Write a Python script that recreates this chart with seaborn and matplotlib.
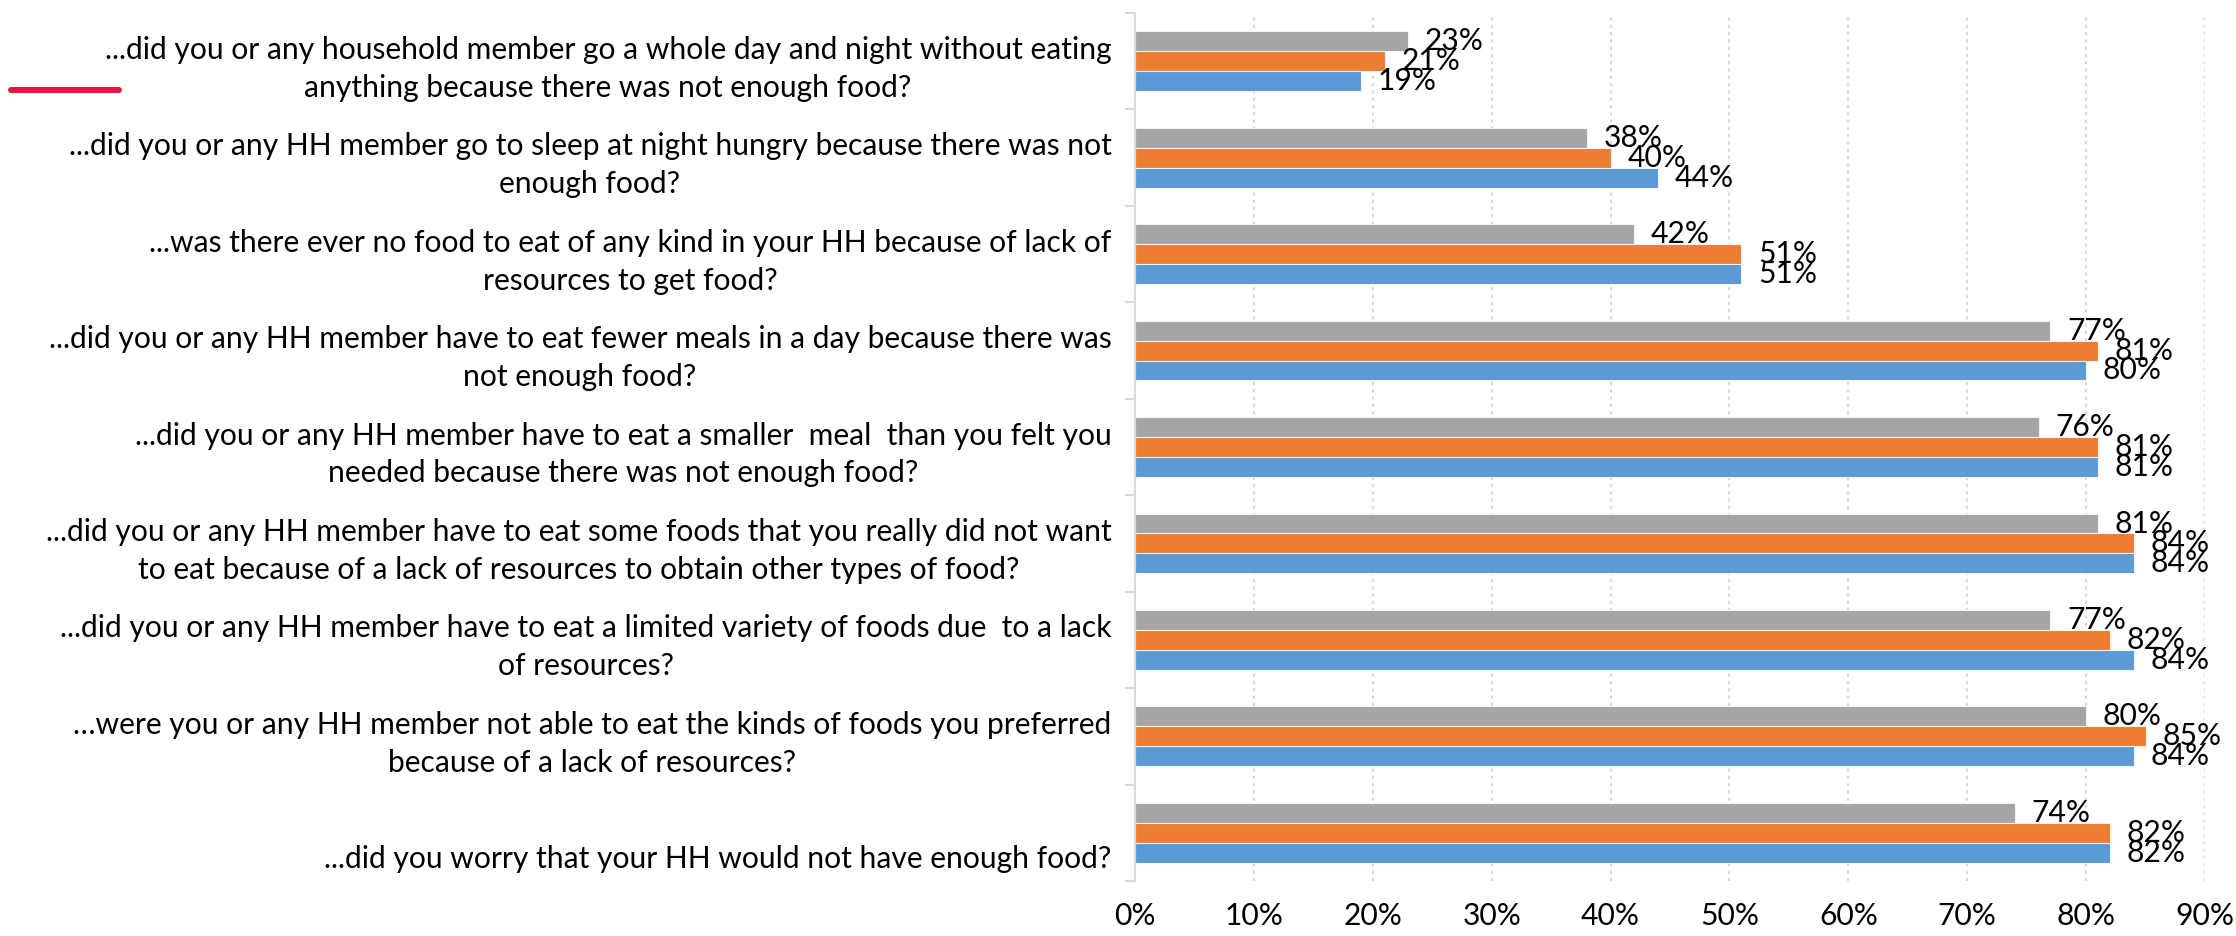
import matplotlib
matplotlib.use("Agg")
import matplotlib.pyplot as plt
from matplotlib.lines import Line2D
from matplotlib.ticker import PercentFormatter, FixedLocator
import seaborn as sns
import pandas as pd

# Household food insecurity questions (top to bottom)
questions = [
    "...did you or any household member go a whole day and night without eating\nanything because there was not enough food?",
    "...did you or any HH member go to sleep at night hungry because there was not\nenough food?",
    "...was there ever no food to eat of any kind in your HH because of lack of\nresources to get food?",
    "...did you or any HH member have to eat fewer meals in a day because there was\nnot enough food?",
    "...did you or any HH member have to eat a smaller  meal  than you felt you\nneeded because there was not enough food?",
    "...did you or any HH member have to eat some foods that you really did not want\nto eat because of a lack of resources to obtain other types of food?",
    "...did you or any HH member have to eat a limited variety of foods due  to a lack\nof resources?",
    "\u2026were you or any HH member not able to eat the kinds of foods you preferred\nbecause of a lack of resources?",
    "\n...did you worry that your HH would not have enough food?",
]

# Share of households answering "yes" (%), one list per survey round
round_3 = [23, 38, 42, 77, 76, 81, 77, 80, 74]   # grey
round_2 = [21, 40, 51, 81, 81, 84, 82, 85, 82]   # orange
round_1 = [19, 44, 51, 80, 81, 84, 84, 84, 82]   # blue

rounds = ["Round 3", "Round 2", "Round 1"]
colors = ["#A5A5A5", "#ED7D31", "#5B9BD5"]

df = pd.DataFrame({
    "question": questions * 3,
    "round": [rounds[0]] * 9 + [rounds[1]] * 9 + [rounds[2]] * 9,
    "pct": round_3 + round_2 + round_1,
})

sns.set_theme(style="white")
plt.rcParams["font.family"] = ["Lato", "DejaVu Sans"]

FS = 21.6

W, H = 2236, 936
fig = plt.figure(figsize=(W / 100, H / 100), dpi=100, facecolor="white")
ax = fig.add_axes([1135 / W, 1 - 881 / H, (2205 - 1135) / W, (881 - 13) / H])

sns.barplot(
    data=df, x="pct", y="question", hue="round", hue_order=rounds,
    order=questions, palette=colors, orient="h", width=0.62,
    saturation=1, edgecolor="#F2F2F2", linewidth=0.8, legend=False, ax=ax,
)

ax.set_xlim(0, 90)
ax.set_ylim(8.5, -0.5)
ax.set_xlabel("")
ax.set_ylabel("")

# x axis: percent ticks with dotted vertical gridlines
ax.set_xticks(range(0, 91, 10))
ax.xaxis.set_major_formatter(PercentFormatter(xmax=100, decimals=0))
ax.tick_params(axis="x", length=0, pad=15, labelsize=FS, labelcolor="black")
ax.grid(axis="x", color="#D9D9D9", linestyle=(0, (1.5, 2)), linewidth=1.5)
ax.set_axisbelow(True)

# y axis: category labels, tick marks between groups
ax.tick_params(axis="y", which="major", length=0, pad=17, labelsize=FS, labelcolor="black")
for lab in ax.get_yticklabels():
    lab.set_multialignment("center")
    lab.set_linespacing(1.43)
ax.yaxis.set_minor_locator(FixedLocator([i - 0.5 for i in range(10)]))
ax.tick_params(axis="y", which="minor", length=7, width=1.5, color="#D9D9D9", left=True)

for side in ["top", "right", "bottom"]:
    ax.spines[side].set_visible(False)
ax.spines["left"].set_color("#D9D9D9")
ax.spines["left"].set_linewidth(1.5)

# value labels at the end of each bar
for container, vals in zip(ax.containers, [round_3, round_2, round_1]):
    ax.bar_label(container, labels=[f"{v}%" for v in vals], padding=12,
                 fontsize=FS, color="black")

# red accent mark beside the first question
fig.add_artist(Line2D([11 / W, 119 / W], [1 - 90 / H, 1 - 90 / H],
                      color="#E0183F", linewidth=4.3, solid_capstyle="round"))

fig.savefig("out.png", dpi=100, facecolor="white")
